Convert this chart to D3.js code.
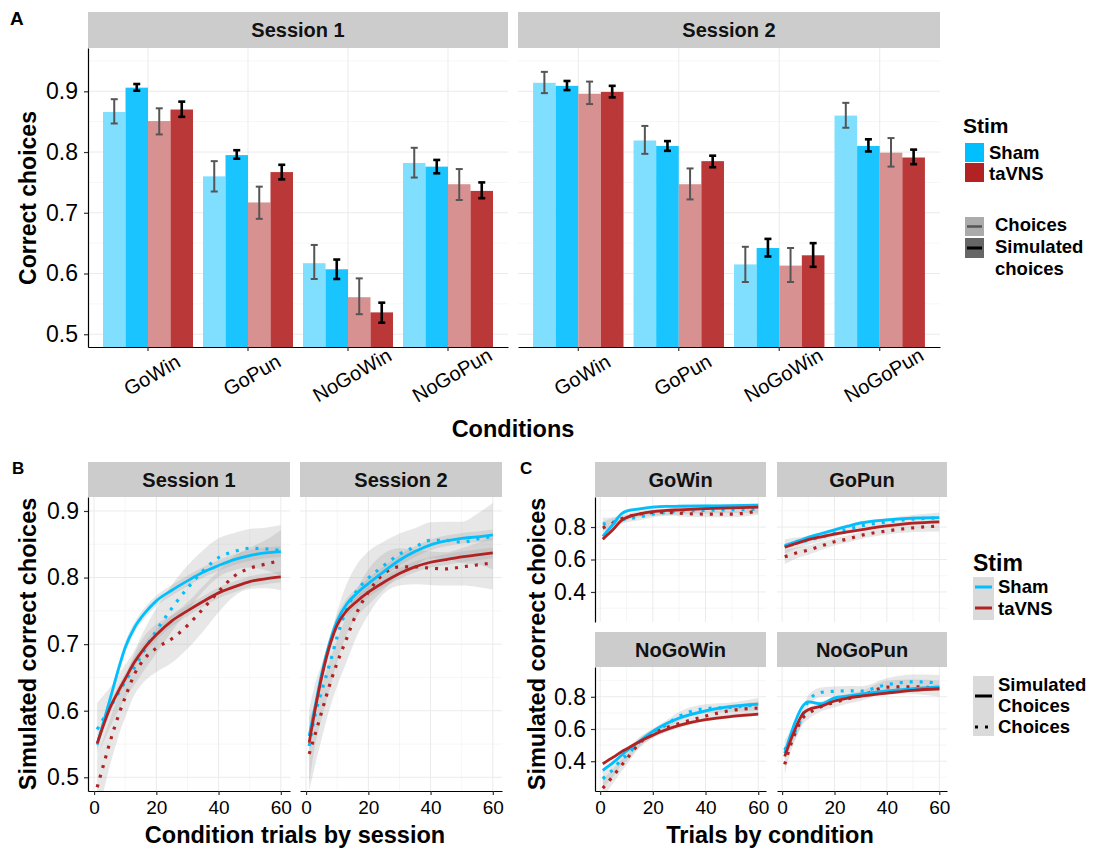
<!DOCTYPE html>
<html>
<head>
<meta charset="utf-8">
<script src="https://cdn.jsdelivr.net/npm/d3@7"></script>
<style>
  body { margin: 0; background: #fff; }
</style>
</head>
<body>
<script>

// ---------------- data: panel A (bars) ----------------
const conditions = ["GoWin", "GoPun", "NoGoWin", "NoGoPun"];
const barSeries = ["Sham choices", "Sham simulated", "taVNS choices", "taVNS simulated"];

// rows = condition, cols = series (same order as barSeries)
const s1Mean = [[0.866, 0.906, 0.851, 0.870], [0.760, 0.795, 0.717, 0.767], [0.617, 0.607, 0.561, 0.536], [0.782, 0.776, 0.747, 0.736]];
const s1Lo   = [[0.847, 0.901, 0.829, 0.858], [0.735, 0.789, 0.690, 0.755], [0.591, 0.591, 0.533, 0.519], [0.758, 0.765, 0.721, 0.724]];
const s1Hi   = [[0.887, 0.912, 0.872, 0.883], [0.785, 0.803, 0.743, 0.779], [0.647, 0.623, 0.592, 0.552], [0.807, 0.787, 0.772, 0.750]];
const s2Mean = [[0.914, 0.909, 0.896, 0.899], [0.819, 0.810, 0.747, 0.785], [0.615, 0.642, 0.613, 0.630], [0.860, 0.810, 0.799, 0.791]];
const s2Lo   = [[0.897, 0.902, 0.879, 0.890], [0.797, 0.802, 0.722, 0.775], [0.586, 0.628, 0.586, 0.611], [0.840, 0.801, 0.776, 0.780]];
const s2Hi   = [[0.932, 0.917, 0.916, 0.909], [0.843, 0.818, 0.773, 0.794], [0.644, 0.657, 0.642, 0.650], [0.881, 0.821, 0.823, 0.804]];
const aTicks = [0.5, 0.6, 0.7, 0.8, 0.9];

// ---------------- data: panel B (by session) ----------------
const bTrials = [1, 3, 5, 8, 10, 13, 16, 20, 25, 30, 35, 40, 45, 50, 55, 60];
const bS1ShamSim  = [0.549, 0.582, 0.615, 0.665, 0.695, 0.725, 0.745, 0.765, 0.781, 0.795, 0.808, 0.818, 0.827, 0.833, 0.837, 0.839];
const bS1TavnsSim = [0.551, 0.578, 0.603, 0.631, 0.648, 0.673, 0.693, 0.714, 0.735, 0.750, 0.764, 0.777, 0.786, 0.794, 0.798, 0.801];
const bS1ShamCh   = [0.572, 0.588, 0.604, 0.628, 0.644, 0.665, 0.690, 0.720, 0.754, 0.784, 0.810, 0.830, 0.839, 0.844, 0.843, 0.841];
const bS1TavnsCh  = [0.485, 0.518, 0.551, 0.595, 0.620, 0.655, 0.677, 0.694, 0.708, 0.728, 0.753, 0.779, 0.802, 0.814, 0.820, 0.826];
const bS1ShamSe   = [0.040, 0.035, 0.030, 0.026, 0.025, 0.026, 0.030, 0.034, 0.035, 0.034, 0.031, 0.029, 0.028, 0.029, 0.032, 0.038];
const bS1TavnsSe  = [0.045, 0.040, 0.035, 0.031, 0.030, 0.031, 0.034, 0.036, 0.036, 0.035, 0.034, 0.031, 0.030, 0.031, 0.036, 0.045];

const bS2ShamSim  = [0.562, 0.609, 0.655, 0.709, 0.735, 0.760, 0.775, 0.791, 0.809, 0.826, 0.839, 0.849, 0.855, 0.859, 0.861, 0.864];
const bS2TavnsSim = [0.552, 0.604, 0.650, 0.704, 0.729, 0.750, 0.763, 0.778, 0.793, 0.806, 0.816, 0.823, 0.827, 0.831, 0.834, 0.837];
const bS2ShamCh   = [0.547, 0.596, 0.629, 0.677, 0.711, 0.752, 0.778, 0.799, 0.818, 0.835, 0.846, 0.856, 0.856, 0.853, 0.858, 0.862];
const bS2TavnsCh  = [0.535, 0.566, 0.598, 0.645, 0.672, 0.708, 0.744, 0.778, 0.806, 0.816, 0.816, 0.814, 0.813, 0.816, 0.819, 0.822];
const bS2ShamSe   = [0.055, 0.046, 0.041, 0.038, 0.038, 0.038, 0.039, 0.040, 0.036, 0.031, 0.028, 0.027, 0.028, 0.031, 0.038, 0.050];
const bS2TavnsSe  = [0.055, 0.046, 0.040, 0.036, 0.035, 0.035, 0.035, 0.034, 0.030, 0.028, 0.026, 0.025, 0.025, 0.028, 0.033, 0.040];
const bTicksY = [0.5, 0.6, 0.7, 0.8, 0.9];

// ---------------- data: panel C (by condition) ----------------
const cTrials = [1, 3, 5, 8, 10, 15, 20, 25, 30, 40, 50, 60];
const cGoWinShamSim    = [0.742, 0.780, 0.818, 0.880, 0.898, 0.912, 0.922, 0.927, 0.928, 0.930, 0.932, 0.935];
const cGoWinTavnsSim   = [0.725, 0.755, 0.786, 0.840, 0.858, 0.881, 0.895, 0.902, 0.906, 0.913, 0.918, 0.923];
const cGoWinShamCh     = [0.819, 0.822, 0.830, 0.845, 0.850, 0.862, 0.880, 0.890, 0.897, 0.903, 0.906, 0.910];
const cGoWinTavnsCh    = [0.794, 0.810, 0.825, 0.850, 0.862, 0.880, 0.890, 0.892, 0.885, 0.880, 0.880, 0.900];
const cGoWinSe         = [0.040, 0.035, 0.030, 0.025, 0.022, 0.020, 0.020, 0.020, 0.020, 0.020, 0.020, 0.025];

const cGoPunShamSim    = [0.686, 0.697, 0.708, 0.724, 0.736, 0.760, 0.783, 0.805, 0.825, 0.844, 0.855, 0.858];
const cGoPunTavnsSim   = [0.676, 0.686, 0.697, 0.712, 0.722, 0.740, 0.756, 0.770, 0.783, 0.807, 0.824, 0.832];
const cGoPunShamCh     = [0.680, 0.690, 0.700, 0.710, 0.720, 0.737, 0.762, 0.785, 0.806, 0.831, 0.849, 0.856];
const cGoPunTavnsCh    = [0.617, 0.627, 0.638, 0.650, 0.658, 0.684, 0.709, 0.726, 0.748, 0.776, 0.795, 0.806];
const cGoPunSe         = [0.045, 0.040, 0.035, 0.030, 0.028, 0.025, 0.022, 0.022, 0.022, 0.022, 0.025, 0.033];

const cNoGoWinShamSim  = [0.343, 0.368, 0.393, 0.435, 0.464, 0.525, 0.585, 0.632, 0.668, 0.713, 0.740, 0.754];
const cNoGoWinTavnsSim = [0.384, 0.405, 0.425, 0.458, 0.476, 0.523, 0.562, 0.595, 0.622, 0.658, 0.678, 0.692];
const cNoGoWinShamCh   = [0.291, 0.320, 0.350, 0.410, 0.436, 0.520, 0.574, 0.625, 0.679, 0.726, 0.735, 0.752];
const cNoGoWinTavnsCh  = [0.232, 0.270, 0.310, 0.372, 0.412, 0.513, 0.572, 0.607, 0.634, 0.680, 0.716, 0.730];
const cNoGoWinSe       = [0.060, 0.050, 0.045, 0.038, 0.035, 0.030, 0.028, 0.028, 0.028, 0.028, 0.030, 0.040];

const cNoGoPunShamSim  = [0.450, 0.553, 0.645, 0.745, 0.768, 0.757, 0.793, 0.804, 0.816, 0.836, 0.850, 0.862];
const cNoGoPunTavnsSim = [0.430, 0.520, 0.600, 0.697, 0.720, 0.742, 0.774, 0.792, 0.804, 0.823, 0.840, 0.850];
const cNoGoPunShamCh   = [0.470, 0.530, 0.585, 0.690, 0.775, 0.828, 0.834, 0.837, 0.836, 0.875, 0.893, 0.886];
const cNoGoPunTavnsCh  = [0.380, 0.490, 0.575, 0.670, 0.695, 0.740, 0.765, 0.787, 0.806, 0.860, 0.862, 0.850];
const cNoGoPunSe       = [0.060, 0.050, 0.045, 0.040, 0.035, 0.030, 0.030, 0.030, 0.030, 0.040, 0.045, 0.050];
const cTicksY = [0.4, 0.6, 0.8];
const trialTicks = [0, 20, 40, 60];

// ---------------- styling ----------------
const FONT = '"Liberation Sans", Arial, Helvetica, sans-serif';
const SHAM = "#00BFFF", TAVNS = "#B22222";
const barFill = ["#80DFFF", "#1AC5FF", "#D89191", "#BA3838"];
const errColor = ["#555", "#000", "#555", "#000"];
const STRIP = "#CCCCCC", GRID = "#EBEBEB", GRIDMINOR = "#F4F4F4";

const svg = d3.select("body").append("svg")
    .attr("width", 1097).attr("height", 850)
    .attr("font-family", FONT);

let clipCount = 0;

function styleAxis(ax, fs) {
  ax.attr("font-family", FONT).attr("font-size", fs);
  ax.select(".domain").attr("stroke", "#000").attr("stroke-width", 1.2);
  ax.selectAll(".tick line").attr("stroke", "#333").attr("stroke-width", 1.2);
  ax.selectAll(".tick text").attr("fill", "#000");
}

function strip(g, x0, x1, y0, y1, label) {
  g.append("rect").attr("x", x0).attr("y", y0).attr("width", x1 - x0).attr("height", y1 - y0)
    .attr("fill", STRIP);
  g.append("text").attr("x", (x0 + x1) / 2).attr("y", (y0 + y1) / 2 + 7)
    .attr("text-anchor", "middle").attr("font-size", 20).attr("font-weight", "bold")
    .attr("fill", "#111").text(label);
}

// ---------------- panel A ----------------
function barPanel(label, means, lo, hi, x0, x1, showY) {
  let top = 48, bottom = 347;
  let y = d3.scaleLinear().domain([0.479, 0.9713]).range([bottom, top]);
  let x = d3.scaleBand().domain(conditions).range([x0, x1]).paddingInner(0.1).paddingOuter(0.15);
  let xs = d3.scaleBand().domain(d3.range(barSeries.length)).range([0, x.bandwidth()]);
  let g = svg.append("g");

  // grid
  [0.55, 0.65, 0.75, 0.85, 0.95].forEach(v => {
    g.append("line").attr("x1", x0).attr("x2", x1).attr("y1", y(v)).attr("y2", y(v))
      .attr("stroke", GRIDMINOR).attr("stroke-width", 0.8);
  });
  aTicks.forEach(v => {
    g.append("line").attr("x1", x0).attr("x2", x1).attr("y1", y(v)).attr("y2", y(v))
      .attr("stroke", GRID).attr("stroke-width", 1);
  });
  conditions.forEach(c => {
    let cx = x(c) + x.bandwidth() / 2;
    g.append("line").attr("x1", cx).attr("x2", cx).attr("y1", top).attr("y2", bottom)
      .attr("stroke", GRID).attr("stroke-width", 1);
  });

  strip(g, x0, x1, 12, 48, label);

  // bars
  conditions.forEach((c, ci) => {
    barSeries.forEach((s, si) => {
      let bx = x(c) + xs(si);
      g.append("rect")
        .attr("x", bx).attr("width", xs.bandwidth())
        .attr("y", y(means[ci][si])).attr("height", bottom - y(means[ci][si]))
        .attr("fill", barFill[si]);
    });
  });

  // error bars
  conditions.forEach((c, ci) => {
    barSeries.forEach((s, si) => {
      let cx = x(c) + xs(si) + xs.bandwidth() / 2;
      let w = si % 2 ? 2.6 : 2;
      let eg = g.append("g").attr("stroke", errColor[si]).attr("stroke-width", w);
      eg.append("line").attr("x1", cx).attr("x2", cx).attr("y1", y(lo[ci][si])).attr("y2", y(hi[ci][si]));
      eg.append("line").attr("x1", cx - 3.5).attr("x2", cx + 3.5).attr("y1", y(lo[ci][si])).attr("y2", y(lo[ci][si]));
      eg.append("line").attr("x1", cx - 3.5).attr("x2", cx + 3.5).attr("y1", y(hi[ci][si])).attr("y2", y(hi[ci][si]));
    });
  });

  // axes
  let ax = g.append("g").attr("transform", `translate(0,${bottom})`)
    .call(d3.axisBottom(x).tickSize(4).tickSizeOuter(0).tickFormat(""));
  styleAxis(ax, 20);
  conditions.forEach(c => {
    let cx = x(c) + x.bandwidth() / 2 + 4;
    g.append("text").attr("transform", `translate(${cx},375) rotate(-30)`)
      .attr("text-anchor", "middle").attr("dy", "0.35em")
      .attr("font-size", 20).attr("fill", "#000").text(c);
  });
  if (showY) {
    let ay = g.append("g").attr("transform", `translate(${x0},0)`)
      .call(d3.axisLeft(y).tickValues(aTicks).tickFormat(d3.format(".1f"))
        .tickSize(4).tickSizeOuter(0).tickPadding(6));
    styleAxis(ay, 23);
  }
}

barPanel("Session 1", s1Mean, s1Lo, s1Hi, 88, 508, true);
barPanel("Session 2", s2Mean, s2Lo, s2Hi, 518, 940, false);

// ---------------- panels B and C ----------------
function smoothPanel(p) {
  let x = d3.scaleLinear().domain([-1.95, 62.95]).range([p.x0, p.x1]);
  let y = d3.scaleLinear().domain(p.yDomain).range([p.y1, p.y0]);
  let g = svg.append("g");

  let id = "clip" + (clipCount++);
  svg.append("clipPath").attr("id", id).append("rect")
    .attr("x", p.x0).attr("y", p.y0).attr("width", p.x1 - p.x0).attr("height", p.y1 - p.y0);

  // grid
  [10, 30, 50].forEach(v => {
    g.append("line").attr("x1", x(v)).attr("x2", x(v)).attr("y1", p.y0).attr("y2", p.y1)
      .attr("stroke", GRIDMINOR).attr("stroke-width", 0.8);
  });
  p.minorY.forEach(v => {
    g.append("line").attr("x1", p.x0).attr("x2", p.x1).attr("y1", y(v)).attr("y2", y(v))
      .attr("stroke", GRIDMINOR).attr("stroke-width", 0.8);
  });
  trialTicks.forEach(v => {
    g.append("line").attr("x1", x(v)).attr("x2", x(v)).attr("y1", p.y0).attr("y2", p.y1)
      .attr("stroke", GRID).attr("stroke-width", 1);
  });
  p.yTicks.forEach(v => {
    g.append("line").attr("x1", p.x0).attr("x2", p.x1).attr("y1", y(v)).attr("y2", y(v))
      .attr("stroke", GRID).attr("stroke-width", 1);
  });

  strip(g, p.x0, p.x1, p.y0 - 35, p.y0, p.label);

  let inner = g.append("g").attr("clip-path", `url(#${id})`);

  // ribbons first
  p.series.forEach(s => {
    let pts = p.trials.map((t, i) => ({ t: t, v: s.vals[i], se: s.se ? s.se[i] : p.simSe }));
    inner.append("path").datum(pts)
      .attr("d", d3.area().curve(d3.curveMonotoneX)
        .x(d => x(d.t)).y0(d => y(d.v - d.se)).y1(d => y(d.v + d.se)))
      .attr("fill", "#999").attr("fill-opacity", 0.24);
  });

  // lines: simulated solid, choices dotted
  p.series.forEach(s => {
    let pts = p.trials.map((t, i) => ({ t: t, v: s.vals[i] }));
    inner.append("path").datum(pts)
      .attr("d", d3.line().curve(d3.curveMonotoneX).x(d => x(d.t)).y(d => y(d.v)))
      .attr("fill", "none").attr("stroke", s.color)
      .attr("stroke-width", s.dotted ? 3.2 : 2.8)
      .attr("stroke-dasharray", s.dotted ? "3,7" : null);
  });

  if (p.showX) {
    let ax = g.append("g").attr("transform", `translate(0,${p.y1})`)
      .call(d3.axisBottom(x).tickValues(trialTicks).tickSize(4).tickSizeOuter(0).tickPadding(6));
    styleAxis(ax, 19);
  }
  if (p.showY) {
    let ay = g.append("g").attr("transform", `translate(${p.x0},0)`)
      .call(d3.axisLeft(y).tickValues(p.yTicks).tickFormat(d3.format(".1f"))
        .tickSize(4).tickSizeOuter(0).tickPadding(5));
    styleAxis(ay, 23);
  }
}

function fourSeries(shamSim, tavnsSim, shamCh, tavnsCh, shamSe, tavnsSe) {
  return [
    { vals: shamCh, se: shamSe, color: SHAM, dotted: true },
    { vals: tavnsCh, se: tavnsSe, color: TAVNS, dotted: true },
    { vals: shamSim, se: null, color: SHAM, dotted: false },
    { vals: tavnsSim, se: null, color: TAVNS, dotted: false }
  ];
}

const bCommon = { y0: 497, y1: 791, yDomain: [0.4794, 0.921], yTicks: bTicksY,
                  minorY: [0.55, 0.65, 0.75, 0.85], trials: bTrials, simSe: 0.008, showX: true };
smoothPanel(Object.assign({}, bCommon, { x0: 88, x1: 290, label: "Session 1", showY: true,
  series: fourSeries(bS1ShamSim, bS1TavnsSim, bS1ShamCh, bS1TavnsCh, bS1ShamSe, bS1TavnsSe) }));
smoothPanel(Object.assign({}, bCommon, { x0: 300, x1: 502, label: "Session 2", showY: false,
  series: fourSeries(bS2ShamSim, bS2TavnsSim, bS2ShamCh, bS2TavnsCh, bS2ShamSe, bS2TavnsSe) }));

const cCommon = { yDomain: [0.215, 0.985], yTicks: cTicksY, minorY: [0.3, 0.5, 0.7, 0.9],
                  trials: cTrials, simSe: 0.01 };
smoothPanel(Object.assign({}, cCommon, { x0: 595, x1: 766, y0: 497, y1: 622, label: "GoWin",
  showX: false, showY: true,
  series: fourSeries(cGoWinShamSim, cGoWinTavnsSim, cGoWinShamCh, cGoWinTavnsCh, cGoWinSe, cGoWinSe) }));
smoothPanel(Object.assign({}, cCommon, { x0: 777, x1: 947, y0: 497, y1: 622, label: "GoPun",
  showX: false, showY: false,
  series: fourSeries(cGoPunShamSim, cGoPunTavnsSim, cGoPunShamCh, cGoPunTavnsCh, cGoPunSe, cGoPunSe) }));
smoothPanel(Object.assign({}, cCommon, { x0: 595, x1: 766, y0: 667, y1: 791, label: "NoGoWin",
  showX: true, showY: true,
  series: fourSeries(cNoGoWinShamSim, cNoGoWinTavnsSim, cNoGoWinShamCh, cNoGoWinTavnsCh, cNoGoWinSe, cNoGoWinSe) }));
smoothPanel(Object.assign({}, cCommon, { x0: 777, x1: 947, y0: 667, y1: 791, label: "NoGoPun",
  showX: true, showY: false,
  series: fourSeries(cNoGoPunShamSim, cNoGoPunTavnsSim, cNoGoPunShamCh, cNoGoPunTavnsCh, cNoGoPunSe, cNoGoPunSe) }));

// ---------------- titles ----------------
function title(x, y, txt, fs, rot) {
  let t = svg.append("text").attr("font-size", fs).attr("font-weight", "bold").attr("fill", "#000")
    .attr("text-anchor", "middle").text(txt);
  if (rot) t.attr("transform", `translate(${x},${y}) rotate(-90)`).attr("dy", "0.35em");
  else t.attr("x", x).attr("y", y);
}
title(28, 198, "Correct choices", 23, true);
title(513, 437, "Conditions", 23.5, false);
title(28, 644, "Simulated correct choices", 23.5, true);
title(295, 843, "Condition trials by session", 23.5, false);
title(537, 644, "Simulated correct choices", 23.5, true);
title(770, 843, "Trials by condition", 23.5, false);

function tag(x, y, txt, fs) {
  svg.append("text").attr("x", x).attr("y", y).attr("font-size", fs).attr("font-weight", "bold").text(txt);
}
tag(10, 25, "A", 19);
tag(12, 474, "B", 17);
tag(520, 474, "C", 17);

// ---------------- legends ----------------
let la = svg.append("g").attr("font-weight", "bold").attr("font-size", 18.5);
la.append("text").attr("x", 963).attr("y", 133).attr("font-size", 21).text("Stim");
la.append("rect").attr("x", 965).attr("y", 143).attr("width", 19).attr("height", 19).attr("fill", SHAM);
la.append("rect").attr("x", 965).attr("y", 163).attr("width", 19).attr("height", 19).attr("fill", TAVNS);
la.append("text").attr("x", 989).attr("y", 159).text("Sham");
la.append("text").attr("x", 989).attr("y", 180).text("taVNS");
la.append("rect").attr("x", 965).attr("y", 217).attr("width", 19).attr("height", 19).attr("fill", "#ABABAB");
la.append("line").attr("x1", 967).attr("x2", 982).attr("y1", 226.5).attr("y2", 226.5)
  .attr("stroke", "#555").attr("stroke-width", 2.5);
la.append("rect").attr("x", 965).attr("y", 238).attr("width", 19).attr("height", 20).attr("fill", "#666");
la.append("line").attr("x1", 967).attr("x2", 982).attr("y1", 248).attr("y2", 248)
  .attr("stroke", "#000").attr("stroke-width", 3);
la.append("text").attr("x", 995).attr("y", 231).text("Choices");
la.append("text").attr("x", 995).attr("y", 253).text("Simulated");
la.append("text").attr("x", 995).attr("y", 275).text("choices");

let lc = svg.append("g").attr("font-weight", "bold").attr("font-size", 18.5);
lc.append("text").attr("x", 973).attr("y", 571).attr("font-size", 23).text("Stim");
lc.append("rect").attr("x", 973).attr("y", 577).attr("width", 21).attr("height", 43).attr("fill", "#DADADA");
lc.append("line").attr("x1", 975).attr("x2", 992).attr("y1", 587).attr("y2", 587)
  .attr("stroke", SHAM).attr("stroke-width", 3);
lc.append("line").attr("x1", 975).attr("x2", 992).attr("y1", 608).attr("y2", 608)
  .attr("stroke", TAVNS).attr("stroke-width", 3);
lc.append("text").attr("x", 998).attr("y", 593).text("Sham");
lc.append("text").attr("x", 998).attr("y", 615).text("taVNS");
lc.append("rect").attr("x", 973).attr("y", 676).attr("width", 21).attr("height", 60).attr("fill", "#DADADA");
lc.append("line").attr("x1", 975).attr("x2", 992).attr("y1", 696).attr("y2", 696)
  .attr("stroke", "#000").attr("stroke-width", 3);
lc.append("line").attr("x1", 975).attr("x2", 992).attr("y1", 727).attr("y2", 727)
  .attr("stroke", "#000").attr("stroke-width", 3).attr("stroke-dasharray", "3,7");
lc.append("text").attr("x", 998).attr("y", 691).text("Simulated");
lc.append("text").attr("x", 998).attr("y", 712).text("Choices");
lc.append("text").attr("x", 998).attr("y", 733).text("Choices");

</script>
</body>
</html>
